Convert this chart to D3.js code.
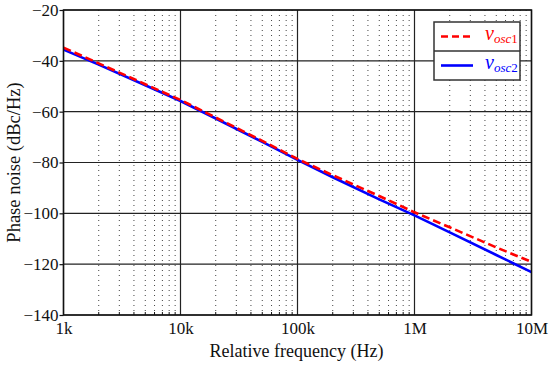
<!DOCTYPE html>
<html>
<head>
<meta charset="utf-8">
<script src="https://cdn.jsdelivr.net/npm/d3@7"></script>
<style>
  body { margin: 0; background: #fff; }
  svg text { font-family: "Liberation Serif", "Times New Roman", Times, serif !important; }
</style>
</head>
<body>
<div id="svg-area"></div>
<script>
const freqs = [1e3, 2e3, 5e3, 1e4, 2e4, 5e4, 1e5, 2e5, 5e5, 1e6, 2e6, 5e6, 1e7]
const osc1 = [-34.8, -41.0, -49.2, -55.4, -62.3, -71.5, -78.6, -85, -93.2, -99.6, -105.5, -113.4, -119.1]
const osc2 = [-35.6, -41.5, -49.6, -55.8, -62.7, -71.9, -79, -85.8, -94.5, -100.8, -107.5, -116.4, -123.1]
const xTicks = [1e3, 1e4, 1e5, 1e6, 1e7]
const xTickLabels = ["1k", "10k", "100k", "1M", "10M"]
const yTicks = [-140, -120, -100, -80, -60, -40, -20]

const margin = { left: 63.5, right: 18.5, top: 10, bottom: 50 }
const width = 550 - margin.left - margin.right,
    height = 365 - margin.top - margin.bottom

const svg = d3.select("#svg-area").append("svg")
        .attr("width", 550)
        .attr("height", 365)
        .append("g")
        .attr("transform", "translate(" + margin.left + ", " + margin.top + ")")

const x = d3.scaleLog().domain([1e3, 1e7]).range([0, width])
const y = d3.scaleLinear().domain([-140, -20]).range([height, 0])

// minor grid (dotted)
const minor = []
for (let dec = 1e3; dec < 1e7; dec *= 10) {
    for (let k = 2; k <= 9; k++) minor.push(dec * k)
}
svg.selectAll(".minor").data(minor).enter().append("line")
    .attr("x1", d => x(d)).attr("x2", d => x(d))
    .attr("y1", 0).attr("y2", height)
    .attr("stroke", "#444").attr("stroke-width", 1)
    .attr("stroke-dasharray", "1,4")

// major grid
svg.selectAll(".vmaj").data(xTicks).enter().append("line")
    .attr("x1", d => x(d)).attr("x2", d => x(d))
    .attr("y1", 0).attr("y2", height)
    .attr("stroke", "#222").attr("stroke-width", 1.2)
svg.selectAll(".hmaj").data(yTicks).enter().append("line")
    .attr("x1", 0).attr("x2", width)
    .attr("y1", d => y(d)).attr("y2", d => y(d))
    .attr("stroke", "#222").attr("stroke-width", 1.2)

// curves
const line = d3.line().x(d => x(d[0])).y(d => y(d[1]))
svg.append("path")
    .datum(freqs.map((f, i) => [f, osc2[i]]))
    .attr("d", line).attr("fill", "none")
    .attr("stroke", "#0000ff").attr("stroke-width", 2.6)
svg.append("path")
    .datum(freqs.map((f, i) => [f, osc1[i]]))
    .attr("d", line).attr("fill", "none")
    .attr("stroke", "#ff0000").attr("stroke-width", 2.6)
    .attr("stroke-dasharray", "8,4")

// frame
svg.append("rect").attr("width", width).attr("height", height)
    .attr("fill", "none").attr("stroke", "#111").attr("stroke-width", 1.5)

// axes
const xAxis = svg.append("g").attr("transform", "translate(0," + height + ")")
    .call(d3.axisBottom(x).tickValues(xTicks).tickFormat((d, i) => xTickLabels[i]).tickSize(0).tickPadding(7))
const yAxis = svg.append("g")
    .call(d3.axisLeft(y).tickValues(yTicks).tickSize(4).tickPadding(1))
svg.selectAll(".domain").remove()
xAxis.attr("font-family", null)
yAxis.attr("font-family", null)
xAxis.selectAll("text").attr("font-size", 17).attr("fill", "#111")
yAxis.selectAll("text").attr("font-size", 17).attr("fill", "#111")
yAxis.selectAll("line").attr("stroke", "#111").attr("stroke-width", 1.2)

// minor ticks on bottom axis
svg.selectAll(".mtick").data(minor).enter().append("line")
    .attr("x1", d => x(d)).attr("x2", d => x(d))
    .attr("y1", height - 3).attr("y2", height)
    .attr("stroke", "#111").attr("stroke-width", 1)

// axis titles
svg.append("text")
    .attr("x", width / 2 - 1).attr("y", height + 42)
    .attr("text-anchor", "middle").attr("font-size", 18).attr("fill", "#111")
    .text("Relative frequency (Hz)")
svg.append("text")
    .attr("transform", "translate(" + (-margin.left + 20) + "," + (height / 2) + ") rotate(-90)")
    .attr("text-anchor", "middle").attr("font-size", 18.5).attr("fill", "#111")
    .text("Phase noise (dBc/Hz)")

// legend
const legend = svg.append("g").attr("transform", "translate(" + (434 - margin.left) + "," + (22 - margin.top) + ")")
legend.append("rect").attr("width", 86).attr("height", 58)
    .attr("fill", "#fff").attr("stroke", "#333").attr("stroke-width", 1.5)
legend.append("line").attr("x1", 0).attr("x2", 86).attr("y1", 29).attr("y2", 29)
    .attr("stroke", "#333").attr("stroke-width", 1.5)
const items = [
    { name: "osc", num: "1", color: "#ff0000", dash: "7,4" },
    { name: "osc", num: "2", color: "#0000ff", dash: null }
]
items.forEach((it, i) => {
    const cy = 14.5 + i * 29
    legend.append("line").attr("x1", 7).attr("x2", 39).attr("y1", cy).attr("y2", cy)
        .attr("stroke", it.color).attr("stroke-width", 2.6)
        .attr("stroke-dasharray", it.dash)
    const t = legend.append("text").attr("x", 51).attr("y", cy + 3)
        .attr("font-size", 20).attr("font-style", "italic").attr("fill", it.color)
    t.append("tspan").text("v")
    t.append("tspan").attr("font-size", 13).attr("dy", 3).text(it.name)
    t.append("tspan").attr("font-size", 13).attr("font-style", "normal").text(it.num)
})
</script>
</body>
</html>
